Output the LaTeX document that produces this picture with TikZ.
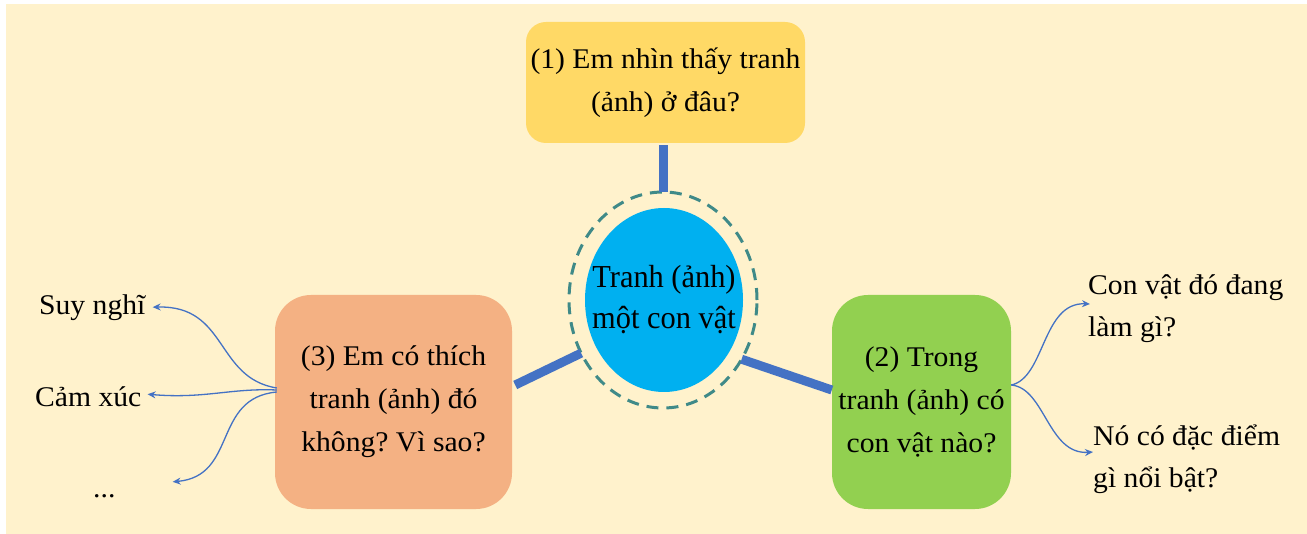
\documentclass[tikz,border=0pt]{standalone}
\usepackage{fontspec}
\setmainfont{Liberation Serif}[FakeStretch=1.04]
\newfontfamily\centerfont{Liberation Serif}[FakeStretch=0.95]
\usetikzlibrary{arrows.meta,calc,shapes.geometric}
\definecolor{cream}{HTML}{FFF2CC}
\definecolor{ylw}{HTML}{FFD966}
\definecolor{org}{HTML}{F4B183}
\definecolor{grn}{HTML}{92D050}
\definecolor{hubblue}{HTML}{00B0F0}
\definecolor{connblue}{HTML}{4472C4}
\definecolor{ringteal}{HTML}{3F8A88}
\frenchspacing
\tikzset{
  box/.style={align=center, inner sep=0pt, font=\fontsize{28.5}{43}\selectfont},
  conn/.style={draw=connblue, line width=9pt},
  thinarrow/.style={draw=connblue, line width=1.3pt, -{Stealth[length=8pt,width=7pt]}},
  side/.style={inner sep=2pt, font=\fontsize{28.5}{42}\selectfont},
}
\begin{document}
\begin{tikzpicture}[x=1pt,y=-1pt]
\useasboundingbox (0,0) rectangle (1307,534);
\fill[white] (0,0) rectangle (1307,534);
\fill[cream] (6,4) rectangle (1307,534);

% question boxes
\node[box, fill=ylw, minimum width=279pt, minimum height=121pt, rounded corners=20pt] (q1) at (665.5,82.5) {(1) Em nhìn thấy tranh\\(ảnh) ở đâu?};
\node[box, fill=org, minimum width=237pt, minimum height=214pt, rounded corners=36pt] (q3) at (393.5,402) {(3) Em có thích\\tranh (ảnh) đó\\không? Vì sao?};
\node[box, fill=grn, minimum width=179pt, minimum height=214pt, rounded corners=36pt] (q2) at (921.5,402) {(2) Trong\\tranh (ảnh) có\\con vật nào?};

% hub
\node[ellipse, draw=ringteal, line width=3pt, dash pattern=on 12pt off 8pt, outer sep=0pt, minimum width=188pt, minimum height=216pt] (ring) at (663,300) {};
\node[ellipse, fill=hubblue, minimum width=158pt, minimum height=184pt,
  label={[align=center, inner sep=0pt, font=\centerfont\fontsize{32}{41}\selectfont]center:Tranh (ảnh)\\một con vật}] (hub) at (664,300) {};

% thick connectors
\draw[conn] (q1.south -| ring.north) ++(0,2) -- (ring.north);
\draw[conn] ($(q3.east)+(3,-17)$) -- (ring.213);
\draw[conn] (ring.323.5) -- ($(q2.west)+(0,-12)$);

% side texts
\node[side, anchor=base west] (s1) at (37,315) {Suy nghĩ};
\node[side, anchor=base west] (s2) at (33,407) {Cảm xúc};
\node[side, anchor=base west] (s3) at (91,497) {...};
\node[side, align=left, anchor=base west] (r1) at (1086,337) {Con vật đó đang\\làm gì?};
\node[side, align=left, anchor=base west] (r2) at (1091,487) {Nó có đặc điểm\\gì nổi bật?};

\coordinate (t3) at ($(s3.north east)+(55,-10)$);
\coordinate (rt1) at (1090,304);
\coordinate (rt2) at (1093,452);

% thin arrows
\draw[thinarrow] ($(q3.west)+(2,-14)$) .. controls (215,378) and (228,305) .. ($(s1.east)+(5,-1)$);
\draw[thinarrow] ($(q3.west)+(2,-12)$) .. controls (230,388) and (205,399) .. ($(s2.east)+(4,-3)$);
\draw[thinarrow] ($(q3.west)+(2,-10)$) .. controls (212,398) and (238,476) .. (t3);
\draw[thinarrow] ($(q2.east)+(0,-17)$) .. controls (1045,378) and (1042,302) .. (rt1);
\draw[thinarrow] ($(q2.east)+(0,-17)$) .. controls (1045,388) and (1048,455) .. (rt2);
\end{tikzpicture}
\end{document}
